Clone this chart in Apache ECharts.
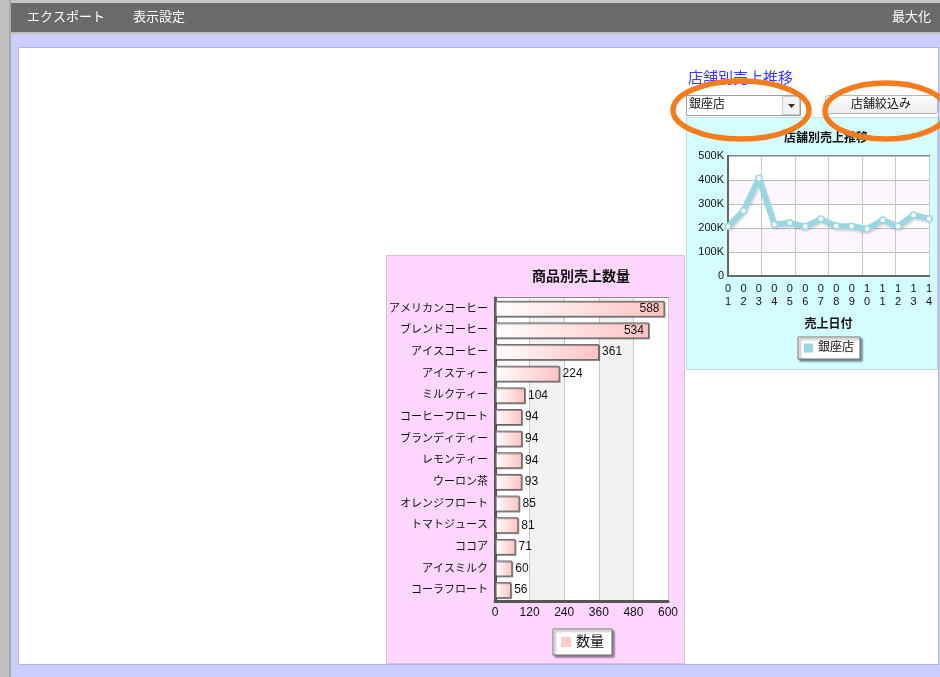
<!DOCTYPE html>
<html>
<head>
<meta charset="utf-8">
<title>売上ダッシュボード</title>
<script src="https://cdn.jsdelivr.net/npm/echarts@6/dist/echarts.min.js"></script>
<style>
    html, body { margin: 0; padding: 0; background: #fff; }
    #main { width: 940px; height: 677px; }
</style>
</head>
<body>
<div id="main"></div>
<script>
// 商品別売上数量
var productNames = ['アメリカンコーヒー', 'ブレンドコーヒー', 'アイスコーヒー', 'アイスティー', 'ミルクティー',
    'コーヒーフロート', 'ブランディティー', 'レモンティー', 'ウーロン茶', 'オレンジフロート',
    'トマトジュース', 'ココア', 'アイスミルク', 'コーラフロート'];
var productQty = [588, 534, 361, 224, 104, 94, 94, 94, 93, 85, 81, 71, 60, 56];
var qtyMax = 600;
var qtyStep = 120;

// 店舗別売上推移 (銀座店)
var salesDates = ['01', '02', '03', '04', '05', '06', '07', '08', '09', '10', '11', '12', '13', '14'];
var ginzaSales = [206000, 272000, 407000, 215000, 222000, 206000, 237000, 208000, 207000, 196000, 233000, 207000, 254000, 239000];
var salesMax = 500000;
var salesStep = 100000;

var toolbarItems = ['エクスポート', '表示設定'];

var FONT = "'Liberation Sans', 'Noto Sans CJK JP', sans-serif";
var LINE_COLOR = '#9ad7e1';

var myChart = echarts.init(document.getElementById('main'));

var graphics = [
    // 背景・枠
    { type: 'rect', z: -100, shape: { x: 0, y: 0, width: 940, height: 677 }, style: { fill: '#ccccff' } },
    { type: 'rect', z: -99, shape: { x: 0, y: 0, width: 940, height: 3 }, style: { fill: '#c4c4c4' } },
    { type: 'rect', z: -99, shape: { x: 0, y: 0, width: 9, height: 677 }, style: { fill: '#c0c0c0' } },
    { type: 'rect', z: -99, shape: { x: 9, y: 0, width: 2, height: 677 }, style: { fill: '#a9a9a9' } },
    { type: 'rect', z: -98, shape: { x: 11, y: 3, width: 929, height: 29 }, style: { fill: '#6b6a6b' } },
    { type: 'rect', z: -98, shape: { x: 11, y: 32, width: 929, height: 2 }, style: { fill: '#bdbdbd' } },
    { type: 'rect', z: -97, shape: { x: 18.5, y: 47.5, width: 920, height: 617 }, style: { fill: '#fff', stroke: '#b0b0ee', lineWidth: 1 } },
    // パネル
    { type: 'rect', z: -96, shape: { x: 386.5, y: 255.5, width: 298, height: 408 }, style: { fill: '#ffd6ff', stroke: '#d6c0d6', lineWidth: 1 } },
    { type: 'rect', z: -96, shape: { x: 686.5, y: 117.5, width: 251, height: 252 }, style: { fill: '#d4fdff', stroke: '#c2dcdc', lineWidth: 1 } },
    // ツールバー
    { type: 'text', z: 10, left: 892, top: 11, style: { text: '最大化', fill: '#fff', font: '13px ' + FONT } },
    // 店舗選択
    { type: 'text', z: 10, left: 688, top: 71, style: { text: '店舗別売上推移', fill: '#3b3bff', font: '15px ' + FONT } },
    { type: 'rect', z: 10, shape: { x: 686.5, y: 95.5, width: 114, height: 20 }, style: { fill: '#fff', stroke: '#a0a0a0', lineWidth: 1 } },
    { type: 'rect', z: 10, shape: { x: 782.5, y: 96.5, width: 17, height: 18 }, style: { fill: '#f4f4f4', stroke: '#c8c8c8', lineWidth: 1 } },
    { type: 'polygon', z: 11, shape: { points: [[788, 104], [795, 104], [791.5, 108]] }, style: { fill: '#333' } },
    { type: 'text', z: 11, left: 689, top: 99, style: { text: '銀座店', fill: '#111', font: '12px ' + FONT } },
    { type: 'rect', z: 10, shape: { x: 825.5, y: 95.5, width: 112, height: 18, r: 3 },
        style: { fill: new echarts.graphic.LinearGradient(0, 0, 0, 1, [{ offset: 0, color: '#ffffff' }, { offset: 1, color: '#ececf0' }]), stroke: '#b4b4b4', lineWidth: 1 } },
    { type: 'text', z: 11, x: 881, y: 104.5, style: { text: '店舗絞込み', fill: '#111', font: '12px ' + FONT, textAlign: 'center', textVerticalAlign: 'middle' } },
    // チャートタイトル
    { type: 'text', z: 10, x: 581, y: 277, style: { text: '商品別売上数量', fill: '#111', font: 'bold 14px ' + FONT, textAlign: 'center', textVerticalAlign: 'middle' } },
    { type: 'text', z: 10, x: 826, y: 139, style: { text: '店舗別売上推移', fill: '#111', font: 'bold 12px ' + FONT, textAlign: 'center', textVerticalAlign: 'middle' } },
    // 強調の丸
    { type: 'ellipse', z: 100, shape: { cx: 741, cy: 110, rx: 68, ry: 29 }, style: { fill: 'none', stroke: '#f57c1e', lineWidth: 5.5 } },
    { type: 'ellipse', z: 100, shape: { cx: 886, cy: 111, rx: 61, ry: 28 }, style: { fill: 'none', stroke: '#f57c1e', lineWidth: 5.5 } }
];

var menuX = [27, 133];
toolbarItems.forEach(function (item, i) {
    graphics.push({ type: 'text', z: 10, left: menuX[i], top: 11, style: { text: item, fill: '#fff', font: '13px ' + FONT } });
});

var option = {
    animation: false,
    textStyle: { fontFamily: FONT },
    graphic: graphics,
    legend: [
        {
            left: 553, top: 629,
            padding: [6, 8, 6, 8],
            backgroundColor: '#fff',
            borderColor: '#777',
            borderWidth: 1,
            shadowColor: 'rgba(0,0,0,0.45)',
            shadowBlur: 2,
            shadowOffsetX: 2,
            shadowOffsetY: 2,
            itemWidth: 10,
            itemHeight: 10,
            textStyle: { fontSize: 14, color: '#111' },
            data: [{ name: '数量', icon: 'rect', itemStyle: { color: '#ffcaca', borderWidth: 0 } }]
        },
        {
            left: 798, top: 337,
            padding: [5, 6, 5, 6],
            backgroundColor: '#fff',
            borderColor: '#777',
            borderWidth: 1,
            shadowColor: 'rgba(0,0,0,0.45)',
            shadowBlur: 2,
            shadowOffsetX: 2,
            shadowOffsetY: 2,
            itemWidth: 9,
            itemHeight: 9,
            textStyle: { fontSize: 12, color: '#111' },
            data: [{ name: '銀座店', icon: 'rect', itemStyle: { color: LINE_COLOR, borderWidth: 0 }, lineStyle: { opacity: 0 } }]
        }
    ],
    grid: [
        {
            left: 495, top: 298, width: 173, height: 303,
            show: true, backgroundColor: '#fff', borderColor: '#888', borderWidth: 2
        },
        {
            left: 728, top: 156, width: 201, height: 120,
            show: true, backgroundColor: '#fff', borderColor: '#888', borderWidth: 2
        }
    ],
    xAxis: [
        {
            type: 'value', gridIndex: 0,
            min: 0, max: qtyMax, interval: qtyStep,
            axisLine: { show: true, lineStyle: { color: '#555', width: 3 } },
            axisTick: { show: false },
            axisLabel: { color: '#111', fontSize: 12, margin: 6 },
            splitLine: { lineStyle: { color: '#c8c8c8' } },
            splitArea: { show: true, areaStyle: { color: ['#ffffff', '#f2f2f2'] } }
        },
        {
            type: 'category', gridIndex: 1,
            boundaryGap: false,
            data: salesDates,
            name: '売上日付',
            nameLocation: 'middle',
            nameGap: 43,
            nameTextStyle: { fontWeight: 'bold', fontSize: 12, color: '#111' },
            axisLine: { show: true, lineStyle: { color: '#666', width: 2 } },
            axisTick: { show: false },
            axisLabel: {
                interval: 0, color: '#111', fontSize: 11, lineHeight: 13, margin: 6,
                formatter: function (v) { return v.split('').join('\n'); }
            },
            splitLine: { show: false }
        },
        {
            // 縦の補助線 (6分割)
            type: 'value', gridIndex: 1, position: 'top',
            min: 0, max: 6, interval: 1,
            axisLine: { show: false },
            axisTick: { show: false },
            axisLabel: { show: false },
            splitLine: { show: true, lineStyle: { color: '#c8c8c8' } }
        }
    ],
    yAxis: [
        {
            type: 'category', gridIndex: 0,
            inverse: true,
            data: productNames,
            axisLine: { show: true, lineStyle: { color: '#555', width: 3 } },
            axisTick: { show: false },
            axisLabel: { interval: 0, color: '#111', fontSize: 11, margin: 7 }
        },
        {
            type: 'value', gridIndex: 1,
            min: 0, max: salesMax, interval: salesStep,
            axisLine: { show: true, lineStyle: { color: '#666', width: 2 } },
            axisTick: { show: false },
            axisLabel: {
                color: '#111', fontSize: 11, margin: 4,
                formatter: function (v) { return v === 0 ? '0' : (v / 1000) + 'K'; }
            },
            splitLine: { lineStyle: { color: '#bdbdbd' } },
            splitArea: { show: true, areaStyle: { color: ['#ffffff', '#fbf6fb'] } }
        }
    ],
    series: [
        {
            name: '数量',
            type: 'bar',
            xAxisIndex: 0,
            yAxisIndex: 0,
            barWidth: 16,
            itemStyle: {
                color: new echarts.graphic.LinearGradient(0, 0, 1, 0, [
                    { offset: 0, color: '#ffffff' },
                    { offset: 1, color: '#ffc2c2' }
                ]),
                borderColor: '#666',
                borderWidth: 1,
                shadowColor: 'rgba(0,0,0,0.35)',
                shadowOffsetX: 1,
                shadowOffsetY: 1
            },
            label: { show: true, color: '#111', fontSize: 12 },
            data: productQty.map(function (v) {
                return { value: v, label: { position: v > 500 ? 'insideRight' : 'right', distance: v > 500 ? 5 : 3 } };
            })
        },
        {
            name: '銀座店',
            type: 'line',
            xAxisIndex: 1,
            yAxisIndex: 1,
            data: ginzaSales,
            symbol: 'circle',
            symbolSize: 6,
            lineStyle: {
                color: LINE_COLOR,
                width: 6,
                shadowColor: 'rgba(0,0,0,0.15)',
                shadowOffsetX: 1,
                shadowOffsetY: 2,
                shadowBlur: 2
            },
            itemStyle: { color: '#ffffff', borderColor: LINE_COLOR, borderWidth: 1.5 },
            z: 5
        }
    ]
};

myChart.setOption(option);
</script>
</body>
</html>
